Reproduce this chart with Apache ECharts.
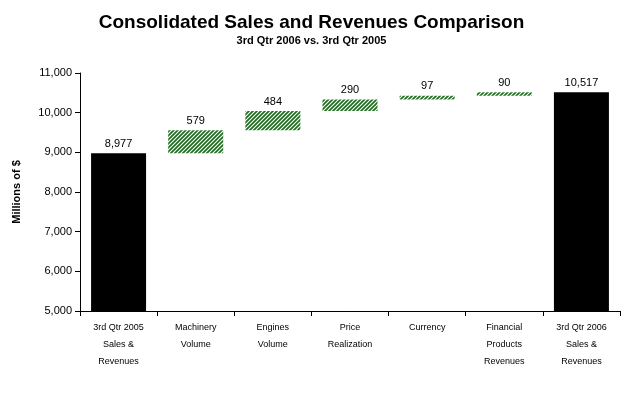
<!DOCTYPE html>
<html><head><meta charset="utf-8">
<script src="https://cdn.jsdelivr.net/npm/echarts@6/dist/echarts.min.js"></script>
<style>html,body{margin:0;background:#fff}#c{width:623px;height:412px}</style>
</head><body><div id="c"></div>
<script>
const categories = ['3rd Qtr 2005\nSales &\nRevenues', 'Machinery\nVolume', 'Engines\nVolume', 'Price\nRealization', 'Currency', 'Financial\nProducts\nRevenues', '3rd Qtr 2006\nSales &\nRevenues']
const totals = [8977, '-', '-', '-', '-', '-', 10517]
const deltas = ['-', 579, 484, 290, 97, 90, '-']
const yTicks = [5000, 6000, 7000, 8000, 9000, 10000, 11000]

// invisible base for the waterfall steps
let run = totals[0]
const bases = deltas.map(d => {
  if (d === '-') return '-'
  const b = run
  run += d
  return b
})

// diagonal hatch
const pc = document.createElement('canvas')
pc.width = 4; pc.height = 4
const g = pc.getContext('2d')
g.strokeStyle = '#1e6b1e'; g.lineWidth = 1.7
g.beginPath()
g.moveTo(-1, 5); g.lineTo(5, -1)
g.moveTo(-1, 1); g.lineTo(1, -1)
g.moveTo(3, 5); g.lineTo(5, 3)
g.stroke()

const chart = echarts.init(document.getElementById('c'))
const font = 'Arial, Liberation Sans, sans-serif'
chart.setOption({
  animation: false,
  textStyle: { fontFamily: font },
  title: {
    text: 'Consolidated Sales and Revenues Comparison',
    subtext: '3rd Qtr 2006 vs. 3rd Qtr 2005',
    left: 'center', top: 8, itemGap: 3,
    textStyle: { fontSize: 19, fontWeight: 'bold', color: '#000', fontFamily: font },
    subtextStyle: { fontSize: 11, fontWeight: 'bold', color: '#000', fontFamily: font }
  },
  grid: { left: 80, right: 3, top: 73, bottom: 101 },
  xAxis: {
    type: 'category', data: categories,
    axisLine: { lineStyle: { color: '#000' } },
    axisTick: { show: true, lineStyle: { color: '#000' } },
    axisLabel: { color: '#000', fontSize: 9, lineHeight: 17, margin: 8, interval: 0 }
  },
  yAxis: {
    type: 'value', min: 5000, max: 11000, interval: 1000,
    name: 'Millions of $', nameLocation: 'middle', nameGap: 58,
    nameTextStyle: { fontSize: 11, fontWeight: 'bold', color: '#000' },
    axisLine: { show: true, lineStyle: { color: '#000' } },
    axisTick: { show: true, lineStyle: { color: '#000' } },
    splitLine: { show: false },
    axisLabel: { color: '#000', fontSize: 11, formatter: v => yTicks.includes(v) ? v.toLocaleString('en-US') : '' }
  },
  series: [
    { type: 'bar', stack: 'w', data: bases, barWidth: 55, itemStyle: { color: 'transparent' }, silent: true },
    { type: 'bar', stack: 'w', data: deltas, barWidth: 55,
      itemStyle: { color: { image: pc, repeat: 'repeat' } },
      label: { show: true, position: 'top', color: '#000', fontSize: 11, distance: 4 } },
    { type: 'bar', stack: 'w', data: totals, barWidth: 55,
      itemStyle: { color: '#000' },
      label: { show: true, position: 'top', color: '#000', fontSize: 11, distance: 4,
        formatter: p => p.value.toLocaleString('en-US') } }
  ]
})
</script></body></html>
